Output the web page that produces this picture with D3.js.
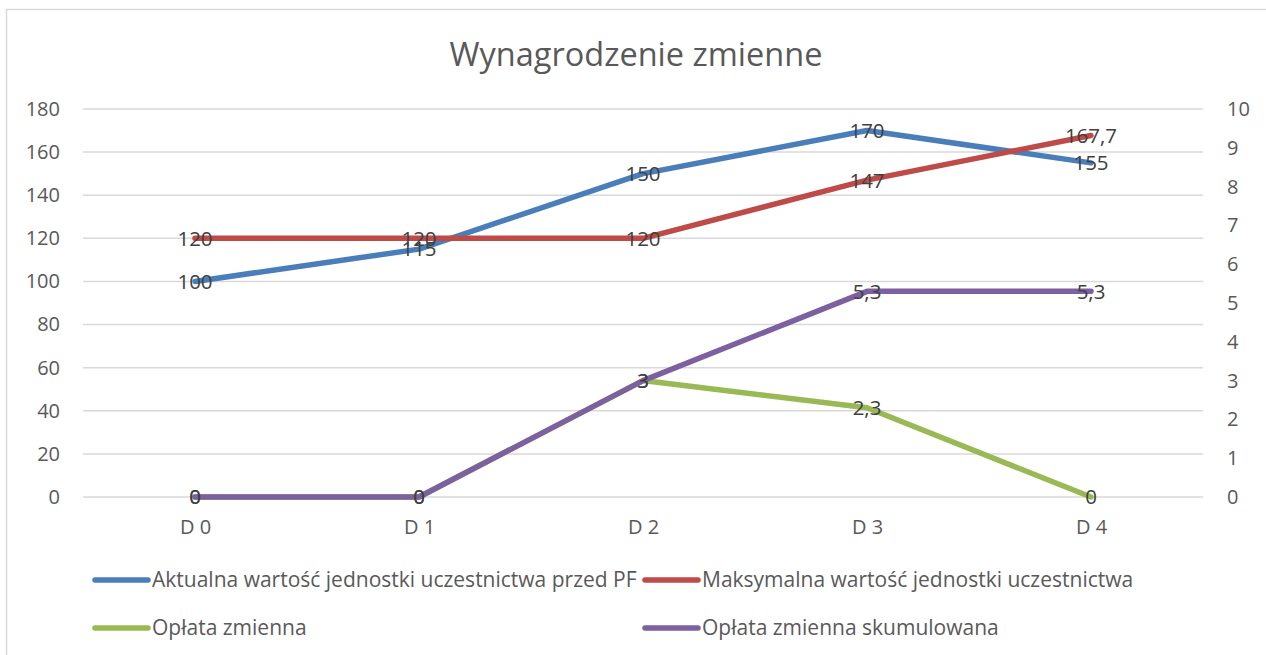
<!DOCTYPE html>
<html>
<head>
<meta charset="utf-8">
<script src="https://cdn.jsdelivr.net/npm/d3@7"></script>
<style>
    body { margin: 0; background: #fff; }
    text { font-family: "Open Sans", "Noto Sans", sans-serif; }
</style>
</head>
<body>
<div id="chart"></div>
<script>
// Data
const categories = ['D 0', 'D 1', 'D 2', 'D 3', 'D 4'];
const seriesNames = [
    'Aktualna wartość jednostki uczestnictwa przed PF',
    'Maksymalna wartość jednostki uczestnictwa',
    'Opłata zmienna',
    'Opłata zmienna skumulowana'
];
const aktualna = [100, 115, 150, 170, 155];
const maksymalna = [120, 120, 120, 147, 167.7];
const oplata = [0, 0, 3, 2.3, 0];
const oplataSkum = [0, 0, 3, 5.3, 5.3];
const leftTicks = [0, 20, 40, 60, 80, 100, 120, 140, 160, 180];
const rightTicks = [0, 1, 2, 3, 4, 5, 6, 7, 8, 9, 10];

// Constants
const WIDTH = 1266;
const HEIGHT = 655;
const PLOT = { left: 83, right: 1203, top: 109, bottom: 497 };
const COLORS = ['#4a7ebb', '#be4b48', '#98b954', '#7d60a0'];

const svg = d3.select('#chart')
    .append('svg').attr('width', WIDTH).attr('height', HEIGHT);

// chart border (only top and left edges show in the frame)
svg.append('rect')
    .attr('x', 6.5).attr('y', 9.5)
    .attr('width', WIDTH + 20).attr('height', HEIGHT + 20)
    .attr('fill', 'none').attr('stroke', '#d9d9d9').attr('stroke-width', 1.5);

// Scales
const x = d3.scalePoint()
    .domain(categories)
    .range([PLOT.left, PLOT.right])
    .padding(0.5);
const yLeft = d3.scaleLinear().domain([0, 180]).range([PLOT.bottom, PLOT.top]);
const yRight = d3.scaleLinear().domain([0, 10]).range([PLOT.bottom, PLOT.top]);

// Gridlines
svg.append('g')
    .selectAll('line')
    .data(leftTicks)
    .join('line')
    .attr('x1', PLOT.left).attr('x2', PLOT.right)
    .attr('y1', d => yLeft(d)).attr('y2', d => yLeft(d))
    .attr('stroke', '#d9d9d9').attr('stroke-width', 1.5);

// Axes
const fmt = d => String(d).replace('.', ',');
const leftAxis = svg.append('g')
    .attr('transform', `translate(${PLOT.left},0)`)
    .call(d3.axisLeft(yLeft).tickValues(leftTicks).tickSize(0).tickPadding(23).tickFormat(fmt));
const rightAxis = svg.append('g')
    .attr('transform', `translate(${PLOT.right},0)`)
    .call(d3.axisRight(yRight).tickValues(rightTicks).tickSize(0).tickPadding(24).tickFormat(fmt));
const bottomAxis = svg.append('g')
    .attr('transform', `translate(0,${PLOT.bottom})`)
    .call(d3.axisBottom(x).tickSize(0).tickPadding(23));

[leftAxis, rightAxis, bottomAxis].forEach(g => {
    g.select('.domain').remove();
    g.selectAll('text')
        .attr('fill', '#595959')
        .style('font-size', '20px')
        .style('font-family', '"Open Sans", sans-serif');
});

// Title
svg.append('text')
    .text('Wynagrodzenie zmienne')
    .attr('x', 636).attr('y', 66)
    .attr('text-anchor', 'middle')
    .attr('fill', '#595959')
    .style('font-size', '32.5px');

// Lines
const series = [
    { name: seriesNames[0], values: aktualna, y: yLeft },
    { name: seriesNames[1], values: maksymalna, y: yLeft },
    { name: seriesNames[2], values: oplata, y: yRight },
    { name: seriesNames[3], values: oplataSkum, y: yRight }
];

series.forEach((s, i) => {
    const line = d3.line()
        .x((d, j) => x(categories[j]))
        .y(d => s.y(d));
    svg.append('path')
        .datum(s.values)
        .attr('d', line)
        .attr('fill', 'none')
        .attr('stroke', COLORS[i])
        .attr('stroke-width', 5.5)
        .attr('stroke-linecap', 'round')
        .attr('stroke-linejoin', 'round');
});

// Data labels, centred on the points
series.forEach(s => {
    svg.append('g')
        .selectAll('text')
        .data(s.values)
        .join('text')
        .attr('x', (d, j) => x(categories[j]))
        .attr('y', d => s.y(d))
        .attr('dy', '0.36em')
        .attr('text-anchor', 'middle')
        .attr('fill', '#404040')
        .style('font-size', '20.5px')
        .text(d => fmt(d));
});

// Legend
const legendPos = [[95, 580], [645, 580], [95, 628], [645, 628]];
series.forEach((s, i) => {
    const [lx, ly] = legendPos[i];
    svg.append('line')
        .attr('x1', lx).attr('x2', lx + 53)
        .attr('y1', ly).attr('y2', ly)
        .attr('stroke', COLORS[i])
        .attr('stroke-width', 5.5)
        .attr('stroke-linecap', 'round');
    svg.append('text')
        .text(s.name)
        .attr('x', lx + 57).attr('y', ly)
        .attr('dy', '0.35em')
        .attr('fill', '#595959')
        .style('font-size', '21px');
});
</script>
</body>
</html>
